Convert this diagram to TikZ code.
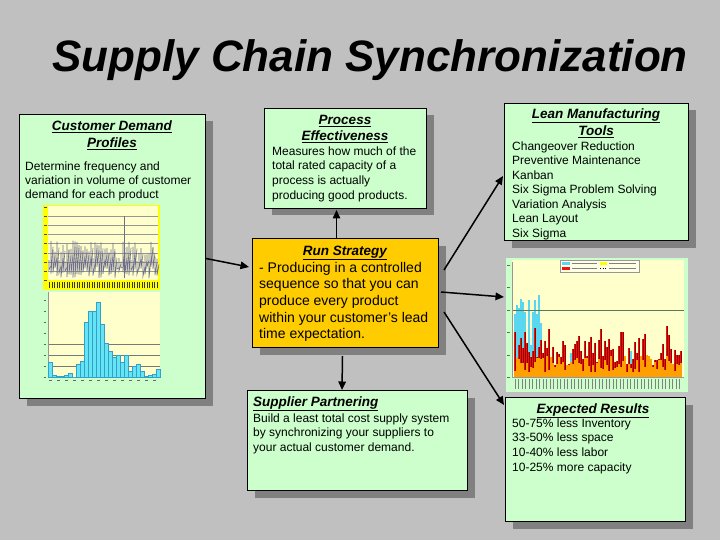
\documentclass[tikz,border=0pt]{standalone}
\usepackage{fontspec}
\setmainfont{Liberation Sans}
\usetikzlibrary{shadows,calc,arrows.meta}
\definecolor{bggray}{RGB}{192,192,192}
\definecolor{shgray}{RGB}{128,128,128}
\definecolor{boxgreen}{RGB}{204,255,204}
\definecolor{runorange}{RGB}{255,204,0}
\definecolor{paleyel}{RGB}{255,255,204}
\definecolor{brightyel}{RGB}{255,255,0}
\definecolor{histcyan}{RGB}{100,228,245}
\definecolor{histedge}{RGB}{50,160,200}
\definecolor{linegray}{RGB}{110,110,140}
\definecolor{gridgray}{RGB}{150,150,150}
\definecolor{redbar}{RGB}{235,20,10}
\definecolor{darkred}{RGB}{150,0,0}
\definecolor{orangebar}{RGB}{255,160,0}
\definecolor{cyanbar}{RGB}{90,215,240}
\definecolor{gridgreen}{RGB}{90,120,90}
\tikzset{
  panel/.style={draw=black, line width=1pt, anchor=north west, inner sep=0pt,
    drop shadow={shadow xshift=7pt, shadow yshift=-7pt, fill=shgray, opacity=1}},
  greenbox/.style={panel, fill=boxgreen},
  orangebox/.style={panel, fill=runorange},
  chartbox/.style={fill=boxgreen, anchor=north west, inner sep=0pt, minimum width=182pt, minimum height=134pt},
  bodytxt/.style={font=\fontsize{12}{14.5}\selectfont, align=left, anchor=north west, inner sep=0pt},
  runtxt/.style={font=\fontsize{14}{16.6}\selectfont, align=left, anchor=north west, inner sep=0pt},
  headtxt/.style={font=\fontsize{13.5}{17}\selectfont\bfseries\itshape, align=center, anchor=north, inner sep=0pt},
  conn/.style={line width=1.5pt, -{Triangle[length=8.5pt,width=7.5pt]}},
  thinline/.style={line width=0.4pt}
}
\begin{document}
\begin{tikzpicture}[x=1pt,y=-1pt]
\pgfmathsetseed{3}
\fill[bggray] (0,0) rectangle (720,540);
\useasboundingbox (0,0) rectangle (720,540);

% title
\node[font=\fontsize{44}{50}\selectfont\bfseries\itshape, anchor=base, inner sep=0pt] (title) at (370,72) {Supply Chain Synchronization};

% boxes
\node[greenbox, minimum width=186pt, minimum height=284pt] (cdp) at (19,114) {};
\node[greenbox, minimum width=162pt, minimum height=100pt] (pe) at (264,108) {};
\node[greenbox, minimum width=184pt, minimum height=137pt] (lean) at (504,103) {};
\node[orangebox, minimum width=186pt, minimum height=109pt] (run) at (252,238) {};
\node[greenbox, minimum width=220pt, minimum height=100pt] (sup) at (247,390) {};
\node[greenbox, minimum width=180pt, minimum height=124pt] (exp) at (505,397) {};
\node[chartbox] (chart) at (506,258) {};

% texts
\node[headtxt] (cdpT) at (112,120.5) {\underline{Customer Demand}\\\underline{Profiles}};
\node[bodytxt, font=\fontsize{12}{14}\selectfont] (cdpB) at (25,161.4) {Determine frequency and\\variation in volume of customer\\demand for each product};

\node[headtxt, font=\fontsize{13.5}{16}\selectfont\bfseries\itshape] (peT) at (345,115.5) {\underline{Process}\\\underline{Effectiveness}};
\node[bodytxt, font=\fontsize{12}{14.6}\selectfont] (peB) at (272,146.4) {Measures how much of the\\total rated capacity of a\\process is actually\\producing good products.};

\node[headtxt] (leanT) at (596,108.5) {\underline{Lean Manufacturing}\\\underline{Tools}};
\node[bodytxt] (leanB) at (512,141.4) {Changeover Reduction\\Preventive Maintenance\\Kanban\\Six Sigma Problem Solving\\Variation Analysis\\Lean Layout\\Six Sigma};

\node[headtxt] (runT) at (345,245.5) {\underline{Run Strategy}};
\node[runtxt] (runB) at (259,262) {- Producing in a controlled\\sequence so that you can\\produce every product\\within your customer's lead\\time expectation.};

\node[headtxt, anchor=north west] (supT) at (253,396.5) {\underline{Supplier Partnering}};
\node[bodytxt] (supB) at (253,413.4) {Build a least total cost supply system\\by synchronizing your suppliers to\\your actual customer demand.};

\node[headtxt] (expT) at (593,403.5) {\underline{Expected Results}};
\node[bodytxt, font=\fontsize{12}{14.6}\selectfont] (expB) at (512,418.4) {50-75\% less Inventory\\33-50\% less space\\10-40\% less labor\\10-25\% more capacity};

% chart 1 (demand line chart)
\fill[brightyel] (43,205) rectangle (160,290);
\fill[paleyel] (48,206) rectangle (158,280);
\foreach \gy in {216,225,234,243,253,262,271}
  \draw[gridgray, thinline] (48,\gy) -- (158,\gy);
\foreach \gy in {207,216,225,234,243,253,262,271,280}
  \draw[black!70, line width=0.6pt] (44,\gy) -- (46.5,\gy);
\foreach \i in {0,...,43}
  \draw[black!80, line width=0.5pt] (49.5+2.5*\i,282) -- (49.5+2.5*\i,287.5);
\foreach \i in {0,...,54} {
  \pgfmathsetmacro{\xx}{49+2*\i}
  \pgfmathsetmacro{\ya}{262-rnd*22}
  \pgfmathsetmacro{\yb}{266+rnd*12}
  \draw[linegray, line width=0.6pt] (\xx,\ya) -- (\xx,\yb) -- (\xx+2,\ya+6);
}
\draw[linegray, line width=0.6pt] (124,278) -- (124,216);

% chart 2 (histogram)
\fill[paleyel] (48,292) rectangle (160,377);
\foreach \gy in {344,355,366}
  \draw[gridgray!80!black, thinline] (48,\gy) -- (160,\gy);
\draw[gridgray, thinline] (48,292) -- (48,377) -- (160,377);
\foreach \gy in {300,311,322,333,344,355,366,377}
  \draw[black!60, line width=0.5pt] (43.5,\gy) -- (46,\gy);
\foreach \h [count=\k from 0] in {14.7,1.7,0.7,0.7,2.3,3.7,0,13.3,16.3,55,65.7,65.7,74.7,53.3,34,26.3,19.7,22.3,15,22.3,6.3,11.3,13.3,6.3,0.7,1.7,3.3,8}
  \filldraw[fill=histcyan, draw=histedge, line width=0.3pt] (48+4*\k,377) rectangle ++(4,-\h);
\foreach \k in {0,2,...,26}
  \draw[black!60, line width=0.5pt] (49+4*\k,380.5) -- (51.5+4*\k,380.5);

% chart 3 (right chart)
\fill[paleyel] (512,260) rectangle (684,377);
\foreach \i in {0,...,83} {
  \pgfmathsetmacro{\xx}{514+2*\i}
  \pgfmathsetmacro{\hc}{(\i<14)*(25+rnd*62)+(\i>=14)*(rnd*rnd*rnd*60)}
  \pgfmathsetmacro{\hr}{10+rnd*48*(0.4+0.6*rnd)}
  \pgfmathsetmacro{\ho}{4+rnd*18}
  \fill[cyanbar] (\xx,377) rectangle ++(2,-\hc);
  \fill[redbar] (\xx-0.4,377) rectangle ++(2.8,-\hr);
  \draw[darkred, line width=0.3pt] (\xx+1,377) -- ++(0,-\hr);
  \fill[orangebar] (\xx,377) rectangle ++(2,-\ho);
}
\draw[gridgreen, line width=0.6pt] (512,310) -- (684,310);
\draw[gridgray, thinline] (512,262) -- (512,377) -- (684,377);
\foreach \gy in {265,287,310,332,355,377}
  \draw[black!60, line width=0.5pt] (507,\gy) -- (510,\gy);
\filldraw[fill=paleyel!50!white, draw=gridgray, line width=0.3pt] (560,260) rectangle (639,272);
\fill[cyanbar] (562,262) rectangle (570,265);
\fill[brightyel] (600,262) rectangle (607,265);
\fill[redbar] (562,267) rectangle (570,270);
\draw[black, dotted, line width=0.6pt] (600,268.5) -- (607,268.5);
\draw[black!50, line width=0.8pt] (572,263.5) -- (597,263.5) (609,263.5) -- (636,263.5)
  (572,268.5) -- (597,268.5) (609,268.5) -- (636,268.5);
\foreach \k in {0,...,47}
  \draw[black!50, line width=0.5pt] (515+3.5*\k,379) -- (515+3.5*\k,389);

% connectors
\draw[conn] ($(cdp.east)+(0,2)$) -- ($(run.north west)+(-3,29)$);
\draw[conn] ($(run.north)+(-9,0)$) -- ($(pe.south)+(-9,1)$);
\draw[conn] ($(run.north east)+(5,32)$) -- ($(lean.west)+(-1,4)$);
\draw[conn] ($(run.east)+(2,-1)$) -- ($(chart.north west)+(-2,39)$);
\draw[conn] ($(run.east)+(5,19)$) -- ($(exp.north west)+(-1,8)$);
\draw[conn] ($(run.south)+(-3,8)$) -- ($(sup.north west)+(95,0)$);
\end{tikzpicture}
\end{document}
